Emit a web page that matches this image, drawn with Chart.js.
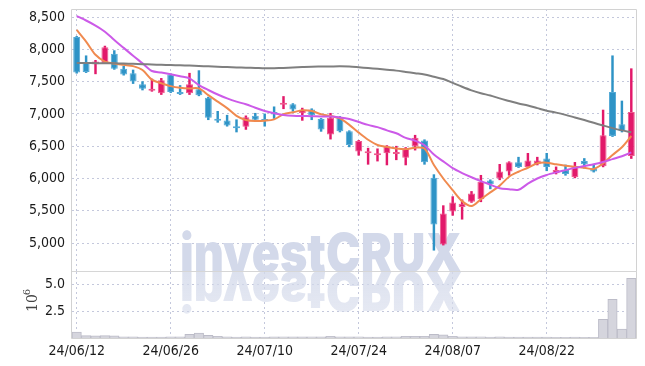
<!DOCTYPE html>
<html><head><meta charset="utf-8">
<script src="https://cdn.jsdelivr.net/npm/chart.js@4.4.1/dist/chart.umd.min.js"></script>
<style>
html,body{margin:0;padding:0;background:#fff;}
#wrap{position:relative;width:645px;height:366px;}
#c1{position:absolute;left:0;top:0;}
#c2{position:absolute;left:0;top:272px;}
</style></head><body>
<div id="wrap"><canvas id="c1" width="645" height="272"></canvas><canvas id="c2" width="645" height="94"></canvas></div>
<script>
const dates = ["24/06/12","24/06/13","24/06/14","24/06/17","24/06/18","24/06/19","24/06/20","24/06/21","24/06/24","24/06/25",
"24/06/26","24/06/27","24/06/28","24/07/01","24/07/02","24/07/03","24/07/04","24/07/05","24/07/08","24/07/09",
"24/07/10","24/07/11","24/07/12","24/07/15","24/07/16","24/07/17","24/07/18","24/07/19","24/07/22","24/07/23",
"24/07/24","24/07/25","24/07/26","24/07/29","24/07/30","24/07/31","24/08/01","24/08/02","24/08/05","24/08/06",
"24/08/07","24/08/08","24/08/09","24/08/12","24/08/13","24/08/14","24/08/16","24/08/19","24/08/20","24/08/21",
"24/08/22","24/08/23","24/08/26","24/08/27","24/08/28","24/08/29","24/08/30","24/09/02","24/09/03","24/09/04"];
const openP = [8190,7790,7770,7790,7930,7700,7630,7460,7360,7320,
7610,7330,7320,7380,7250,6920,6900,6810,6800,6970,
6920,7030,7140,7150,7010,7070,6920,6680,6940,6730,
6420,6390,6360,6390,6380,6320,6500,6590,6010,4980,
5490,5560,5640,5680,5970,6000,6110,6250,6180,6220,
6310,6080,6130,6020,6270,6160,6190,7340,6840,6350];
const highP = [8200,7900,7830,8050,7980,7740,7680,7500,7540,7550,
7620,7440,7630,7670,7260,7040,6980,6910,6970,7010,
7000,7110,7270,7160,7090,7080,6930,7010,6960,6740,
6590,6470,6460,6510,6500,6480,6670,6600,6060,5580,
5720,5670,5800,6050,5980,6220,6260,6330,6390,6330,
6390,6180,6210,6250,6310,6210,7060,7900,7200,7700];
const lowP = [7630,7640,7620,7790,7690,7600,7470,7370,7350,7300,
7330,7300,7300,7280,6910,6870,6810,6720,6760,6900,
6810,6930,7080,7040,6900,6910,6730,6610,6720,6490,
6360,6220,6270,6210,6290,6210,6440,6220,4890,4970,
5430,5370,5630,5640,5840,5980,6050,6170,6170,6210,
6120,6070,6050,6010,6160,6100,6180,6650,6720,6310];
const closeP = [7640,7650,7810,8030,7700,7610,7500,7390,7390,7520,
7340,7310,7460,7290,6940,6895,6820,6780,6950,6910,
6890,6990,7150,7070,7060,6980,6760,6940,6730,6520,
6580,6420,6390,6500,6390,6470,6630,6250,5290,5460,
5630,5610,5770,5950,5910,6110,6250,6180,6280,6280,
6180,6130,6070,6190,6220,6110,6670,6660,6730,7030];
const ma5 = [8300,8120,7915,7810,7780,7760,7740,7680,7530,7475,
7430,7405,7395,7395,7290,7190,7090,6970,6905,6890,
6895,6915,6995,7025,7055,7045,6995,6970,6930,6830,
6710,6600,6519,6490,6465,6455,6477,6465,6209,6000,
5820,5650,5574,5680,5785,5890,6028,6105,6167,6235,
6245,6220,6199,6183,6167,6147,6235,6364,6483,6658];
const ma20 = [8515,8446,8368,8273,8144,8022,7900,7783,7664,7641,
7613,7582,7551,7447,7370,7300,7240,7190,7150,7096,
7045,7010,6985,6972,6967,6965,6960,6960,6945,6920,
6875,6830,6795,6745,6700,6630,6585,6515,6370,6265,
6160,6085,6020,5960,5905,5850,5835,5825,5920,6000,
6055,6095,6130,6165,6195,6220,6255,6300,6345,6405];
const ma60 = [7790,7788,7786,7784,7783,7780,7776,7770,7765,7760,
7757,7753,7748,7742,7736,7731,7725,7720,7716,7712,
7707,7708,7712,7718,7725,7731,7733,7735,7737,7733,
7722,7710,7698,7684,7670,7650,7630,7610,7575,7540,
7480,7420,7365,7320,7285,7240,7200,7160,7130,7090,
7050,7020,6985,6945,6905,6862,6820,6780,6745,6715];
const volumeM = [0.55,0.22,0.2,0.22,0.2,0.1,0.1,0.08,0.08,0.08,
0.1,0.1,0.35,0.45,0.25,0.15,0.1,0.08,0.1,0.08,
0.08,0.1,0.12,0.1,0.1,0.12,0.1,0.15,0.1,0.1,
0.12,0.08,0.08,0.1,0.12,0.15,0.15,0.15,0.35,0.3,
0.15,0.1,0.1,0.12,0.08,0.1,0.08,0.08,0.08,0.08,
0.08,0.06,0.06,0.08,0.06,0.06,1.75,3.62,0.84,5.59];
const priceTicks = [5000,5500,6000,6500,7000,7500,8000,8500];
const volumeTicks = [2.5,5.0];

const UP = '#e2196a', DOWN = '#2e93c6';
const UPB = '#ee5a8e', DOWNB = '#55aad6';
const isUp = i => closeP[i] >= openP[i];
const cCol = dates.map((d,i)=> isUp(i)?UP:DOWN);
const bCol = dates.map((d,i)=> isUp(i)?UPB:DOWNB);
const GRID = '#c4c8dc';
const FONT = '"DejaVu Sans Condensed", "Liberation Sans", sans-serif';
const WM = '#d3d9ea';

function fitWM(ctx){
  ctx.font = '900 54px Inter, Roboto, "Liberation Sans", sans-serif';
  const w = ctx.measureText('investCRUX').width;
  return 282 / w;
}
function noPad(s){ s.paddingTop = 0; s.paddingBottom = 0; s.paddingLeft = 0; s.paddingRight = 0; }
const frame1 = {
  id:'frame1',
  beforeDatasetsDraw(chart){
    const ctx = chart.ctx;
    ctx.save();
    const sx = fitWM(ctx);
    ctx.translate(180, 272);
    ctx.scale(sx, 1);
    ctx.fillStyle = WM;
    ctx.textBaseline = 'alphabetic';
    ctx.fillText('investCRUX', 0, 0);
    ctx.restore();
  },
  afterDraw(chart){
    const a = chart.chartArea, ctx = chart.ctx;
    ctx.save();
    ctx.strokeStyle = '#d2d2d2'; ctx.lineWidth = 1;
    ctx.beginPath();
    ctx.moveTo(a.left-0.5, a.bottom); ctx.lineTo(a.left-0.5, a.top+0.5);
    ctx.lineTo(a.right+0.5, a.top+0.5); ctx.lineTo(a.right+0.5, a.bottom);
    ctx.stroke();
    ctx.strokeStyle = '#d6d6d6';
    ctx.beginPath(); ctx.moveTo(a.left, 271.5); ctx.lineTo(a.right+1, 271.5); ctx.stroke();
    ctx.restore();
  }
};
const frame2 = {
  id:'frame2',
  beforeDatasetsDraw(chart){
    const ctx = chart.ctx, a = chart.chartArea;
    ctx.save();
    ctx.beginPath(); ctx.rect(a.left, a.top, a.right-a.left, a.bottom-a.top); ctx.clip();
    const sx = fitWM(ctx);
    ctx.translate(180, 0);
    ctx.scale(sx, -1);
    const g = ctx.createLinearGradient(0, 0, 0, -45);
    g.addColorStop(0, 'rgba(211,217,234,0.8)');
    g.addColorStop(1, 'rgba(211,217,234,0.55)');
    ctx.fillStyle = g;
    ctx.textBaseline = 'alphabetic';
    ctx.fillText('investCRUX', 0, 0);
    ctx.restore();
  },
  afterDraw(chart){
    const a = chart.chartArea, ctx = chart.ctx;
    ctx.save();
    ctx.strokeStyle = '#d2d2d2'; ctx.lineWidth = 1;
    ctx.beginPath();
    ctx.moveTo(a.left-0.5, 0); ctx.lineTo(a.left-0.5, a.bottom+0.5);
    ctx.lineTo(a.right+0.5, a.bottom+0.5); ctx.lineTo(a.right+0.5, 0);
    ctx.stroke();
    ctx.translate(33, 31);
    ctx.rotate(-Math.PI/2);
    ctx.fillStyle = '#444';
    ctx.font = '14px "DejaVu Serif", serif';
    ctx.textAlign = 'center'; ctx.textBaseline = 'middle';
    ctx.fillText('10', 0, 0);
    ctx.font = '10px "DejaVu Serif", serif';
    ctx.fillText('6', 11, -6);
    ctx.restore();
  }
};

new Chart(document.getElementById('c1'), {
  type:'bar',
  data:{
    labels: dates,
    datasets:[
      {type:'line', data: ma60, borderColor:'#7f7f7f', borderWidth:2, pointRadius:0, tension:0.3, order:0},
      {type:'line', data: ma20, borderColor:'#cc5ae8', borderWidth:2, pointRadius:0, tension:0.3, order:0},
      {type:'line', data: ma5, borderColor:'#f08a4f', borderWidth:2, pointRadius:0, tension:0.3, order:0},
      {data: dates.map((d,i)=>[openP[i], closeP[i]]), backgroundColor: cCol, borderColor: bCol, borderWidth:1, borderSkipped:false,
        barPercentage:0.74, categoryPercentage:1, grouped:false, minBarLength:2, order:2},
      {data: dates.map((d,i)=>[lowP[i], highP[i]]), backgroundColor: cCol, borderWidth:0, barThickness:1.8, grouped:false, order:3}
    ]
  },
  options:{
    responsive:false, animation:false, devicePixelRatio:1,
    layout:{padding:{top:9, right:9, left:0, bottom:0}},
    plugins:{legend:{display:false}, tooltip:{enabled:false}},
    scales:{
      x:{offset:true, grid:{offset:false, drawTicks:false, color: c => (c.index%10===0 ? GRID : 'rgba(0,0,0,0)')},
         border:{display:false, dash:[2,3]}, ticks:{display:false}, afterFit: s => { s.height = 0; noPad(s); }},
      y:{min:4553, max:8624, afterBuildTicks: s => { s.ticks = priceTicks.map(v=>({value:v})); },
         grid:{drawTicks:false, color:GRID}, border:{display:false, dash:[2,3]},
         ticks:{padding:7, color:'#1a1a1a', font:{family:FONT, size:14}, callback: v => v.toLocaleString('en-US')},
         afterFit: s => { s.width = 72; noPad(s); }}
    }
  },
  plugins:[frame1]
});

new Chart(document.getElementById('c2'), {
  type:'bar',
  data:{ labels: dates, datasets:[{data: volumeM, backgroundColor:'#d5d5dd', borderColor:'#bcbcc8', borderWidth:1, borderSkipped:'bottom',
    barPercentage:1, categoryPercentage:1}]},
  options:{
    responsive:false, animation:false, devicePixelRatio:1,
    layout:{padding:{top:0, right:9, left:0, bottom:0}},
    plugins:{legend:{display:false}, tooltip:{enabled:false}},
    scales:{
      x:{offset:true, grid:{offset:false, drawTicks:false, color: c => (c.index%10===0 ? GRID : 'rgba(0,0,0,0)')},
         border:{display:false, dash:[2,3]},
         ticks:{autoSkip:false, maxRotation:0, padding:5, color:'#1a1a1a', font:{family:FONT, size:14},
           callback: (v,i) => (i%10===0 ? dates[i] : '')},
         afterFit: s => { s.height = 28; noPad(s); }},
      y:{min:0, max:6.18, afterBuildTicks: s => { s.ticks = volumeTicks.map(v=>({value:v})); },
         grid:{drawTicks:false, color:GRID}, border:{display:false, dash:[2,3]},
         ticks:{padding:7, color:'#1a1a1a', font:{family:FONT, size:14}, callback: v => v.toFixed(1)},
         afterFit: s => { s.width = 72; noPad(s); }}
    }
  },
  plugins:[frame2]
});
</script>
</body></html>
